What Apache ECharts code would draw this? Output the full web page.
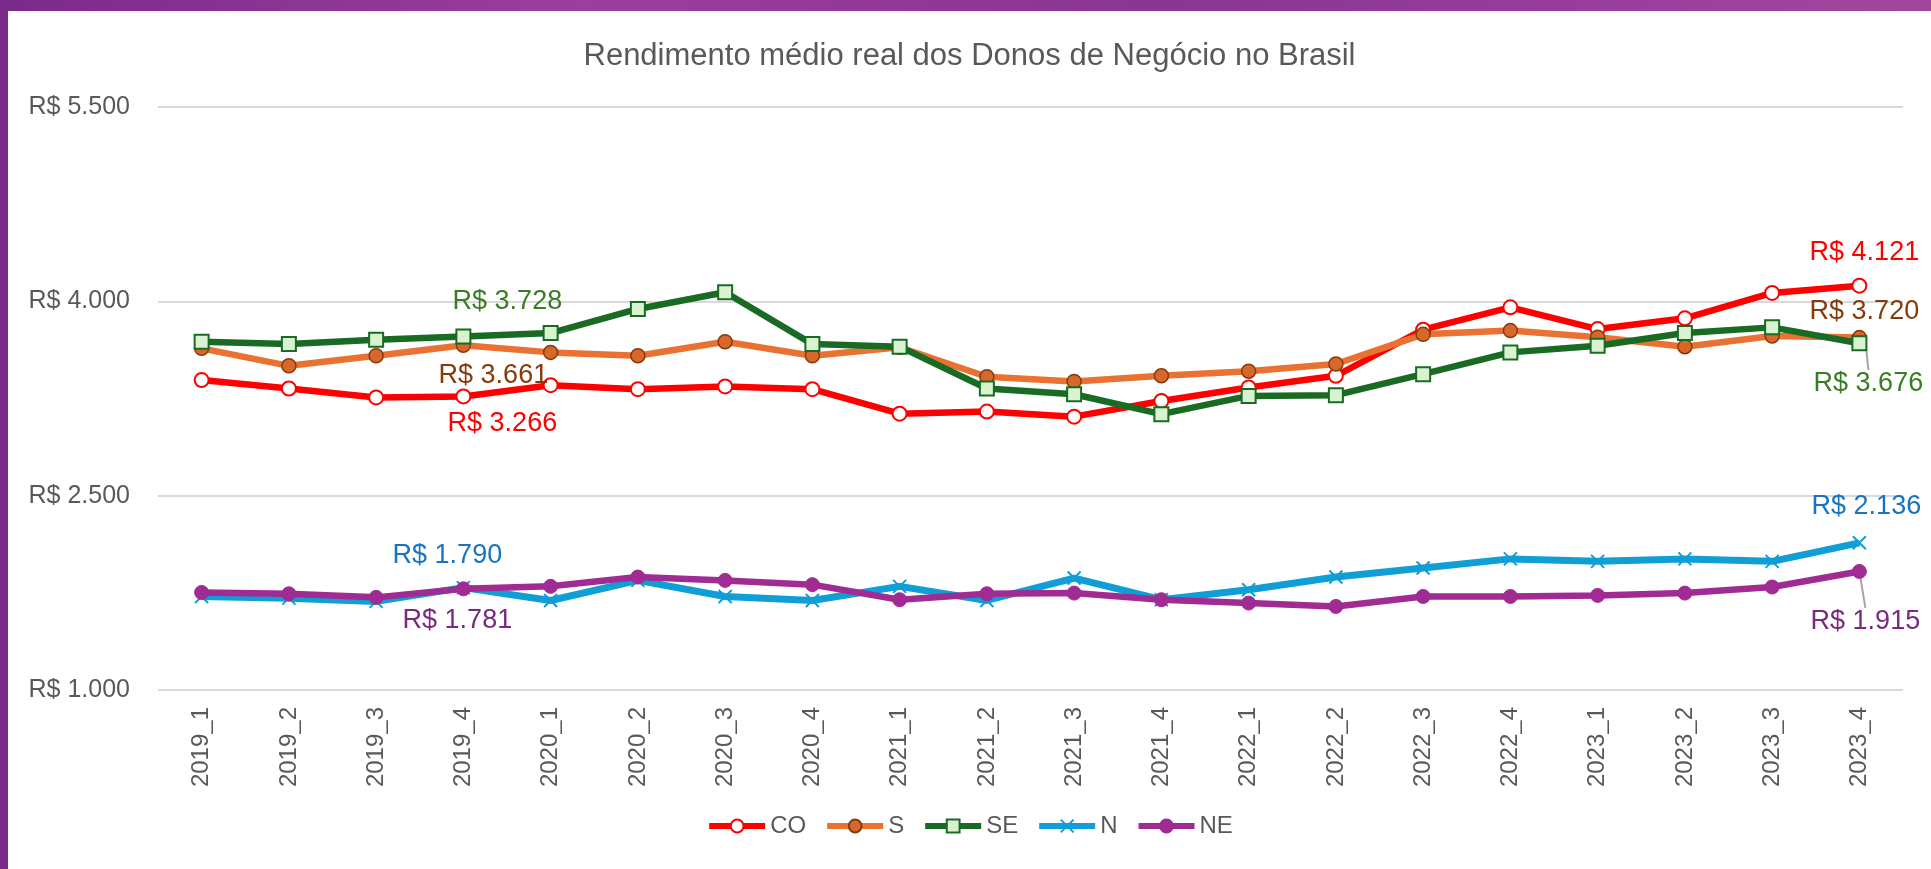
<!DOCTYPE html>
<html>
<head>
<meta charset="utf-8">
<script src="https://cdn.jsdelivr.net/npm/echarts@6/dist/echarts.min.js"></script>
<style>
  html, body { margin: 0; padding: 0; width: 1931px; height: 869px; overflow: hidden;
    background: linear-gradient(90deg, #7b2a8c 0%, #9a3f9c 30%, #8a3494 60%, #a0479f 100%); }
  #chart { position: absolute; left: 8px; top: 11px; width: 1923px; height: 858px; background: #fff; }
</style>
</head>
<body>
<div id="chart"></div>
<script>
const categories = ['2019_1', '2019_2', '2019_3', '2019_4', '2020_1', '2020_2', '2020_3', '2020_4',
  '2021_1', '2021_2', '2021_3', '2021_4', '2022_1', '2022_2', '2022_3', '2022_4',
  '2023_1', '2023_2', '2023_3', '2023_4']
// rendimento por regiao (R$)
const co = [3392, 3327, 3258, 3266, 3353, 3322, 3343, 3322, 3133, 3149, 3110, 3231, 3335, 3425, 3781, 3954, 3786, 3869, 4065, 4121]
const s = [3637, 3502, 3580, 3661, 3606, 3580, 3688, 3580, 3645, 3418, 3382, 3425, 3461, 3516, 3745, 3774, 3723, 3650, 3732, 3720]
const se = [3688, 3670, 3704, 3728, 3755, 3941, 4070, 3670, 3650, 3327, 3283, 3129, 3270, 3276, 3438, 3606, 3657, 3755, 3799, 3676]
const n = [1722, 1709, 1684, 1790, 1691, 1846, 1722, 1691, 1800, 1691, 1864, 1697, 1774, 1872, 1942, 2012, 1993, 2012, 1993, 2136]
const ne = [1753, 1743, 1715, 1781, 1800, 1872, 1846, 1813, 1697, 1743, 1748, 1697, 1671, 1645, 1722, 1722, 1730, 1748, 1795, 1915]
const yTicks = [1000, 2500, 4000, 5500]

const labeled = [3, 19]

function brl (v) {
  return 'R$ ' + String(v).replace(/\B(?=(\d{3})+(?!\d))/g, '.')
}

// offsets dos rotulos (em px) por serie: [indice 3, indice 19]
const labelOffsets = {
  CO: [[39, 27], [5, -33]],
  S: [[30, 30], [5, -26]],
  SE: [[44, -35], [9, 40]],
  N: [[-16, -32], [7, -36]],
  NE: [[-6, 32], [6, 50]]
}
// series cujo ultimo rotulo tem linha de chamada (rotulos movidos via labelLayout)
const leader = { SE: true, NE: true }

function makeData (name, values, labelColor) {
  return values.map((v, i) => {
    const k = labeled.indexOf(i)
    if (k < 0) return v
    const item = {
      value: v,
      label: {
        show: true,
        position: 'inside',
        offset: leader[name] ? [0, 0] : labelOffsets[name][k],
        color: labelColor,
        fontSize: 27,
        fontFamily: 'Liberation Sans',
        formatter: p => brl(p.value)
      }
    }
    if (leader[name] && k === 1) {
      item.labelLine = { show: true, lineStyle: { color: '#A6A6A6', width: 2 } }
    }
    return item
  })
}

function leaderLayout (name) {
  return function (p) {
    const k = labeled.indexOf(p.dataIndex)
    if (k < 0) return {}
    const off = labelOffsets[name][k]
    return { dx: off[0], dy: off[1] }
  }
}

const chart = echarts.init(document.getElementById('chart'))
chart.setOption({
  animation: false,
  textStyle: { fontFamily: 'Liberation Sans' },
  title: {
    text: 'Rendimento médio real dos Donos de Negócio no Brasil',
    left: 'center',
    top: 27,
    padding: 0,
    textStyle: { fontSize: 31, fontWeight: 'normal', color: '#595959', lineHeight: 36 }
  },
  legend: {
    data: ['CO', 'S', 'SE', 'N', 'NE'],
    bottom: 26,
    left: 'center',
    itemWidth: 56,
    itemHeight: 16,
    itemGap: 18,
    lineStyle: { width: 6 },
    textStyle: { fontSize: 24, color: '#595959' }
  },
  grid: { left: 150, right: 28, top: 96, bottom: 179 },
  xAxis: {
    type: 'category',
    data: categories,
    boundaryGap: true,
    axisLine: { show: false },
    axisTick: { show: false },
    axisLabel: { rotate: 90, interval: 0, margin: 17, fontSize: 24, color: '#595959' }
  },
  yAxis: {
    type: 'value',
    min: yTicks[0],
    max: yTicks[yTicks.length - 1],
    interval: yTicks[1] - yTicks[0],
    axisLine: { show: false },
    axisTick: { show: false },
    axisLabel: { margin: 28, fontSize: 25, color: '#595959', formatter: v => brl(v) },
    splitLine: { lineStyle: { color: '#D9D9D9', width: 2 } }
  },
  series: [
    {
      name: 'CO',
      type: 'line',
      data: makeData('CO', co, '#FF0000'),
      symbol: 'circle',
      symbolSize: 14,
      lineStyle: { color: '#FF0000', width: 6.5 },
      itemStyle: { color: '#FFFFFF', borderColor: '#FF0000', borderWidth: 2 }
    },
    {
      name: 'S',
      type: 'line',
      data: makeData('S', s, '#843C0C'),
      symbol: 'circle',
      symbolSize: 14,
      lineStyle: { color: '#E97132', width: 6.5 },
      itemStyle: { color: '#D7672A', borderColor: '#843C0C', borderWidth: 1.5 }
    },
    {
      name: 'SE',
      type: 'line',
      data: makeData('SE', se, '#3B7D23'),
      labelLayout: leaderLayout('SE'),
      symbol: 'rect',
      symbolSize: 14,
      lineStyle: { color: '#196B24', width: 6.5 },
      itemStyle: { color: '#D9F2D0', borderColor: '#196B24', borderWidth: 2 }
    },
    {
      name: 'N',
      type: 'line',
      data: makeData('N', n, '#1874C1'),
      symbol: 'path://M0,0L10,10M10,0L0,10',
      symbolSize: 13,
      lineStyle: { color: '#0F9ED5', width: 7 },
      itemStyle: { color: '#0F9ED5', borderColor: '#0F9ED5', borderWidth: 2 }
    },
    {
      name: 'NE',
      type: 'line',
      data: makeData('NE', ne, '#7A2A7C'),
      labelLayout: leaderLayout('NE'),
      symbol: 'circle',
      symbolSize: 14,
      lineStyle: { color: '#A02B93', width: 6.5 },
      itemStyle: { color: '#A02B93', borderColor: '#A02B93', borderWidth: 1 }
    }
  ]
})
</script>
</body>
</html>
